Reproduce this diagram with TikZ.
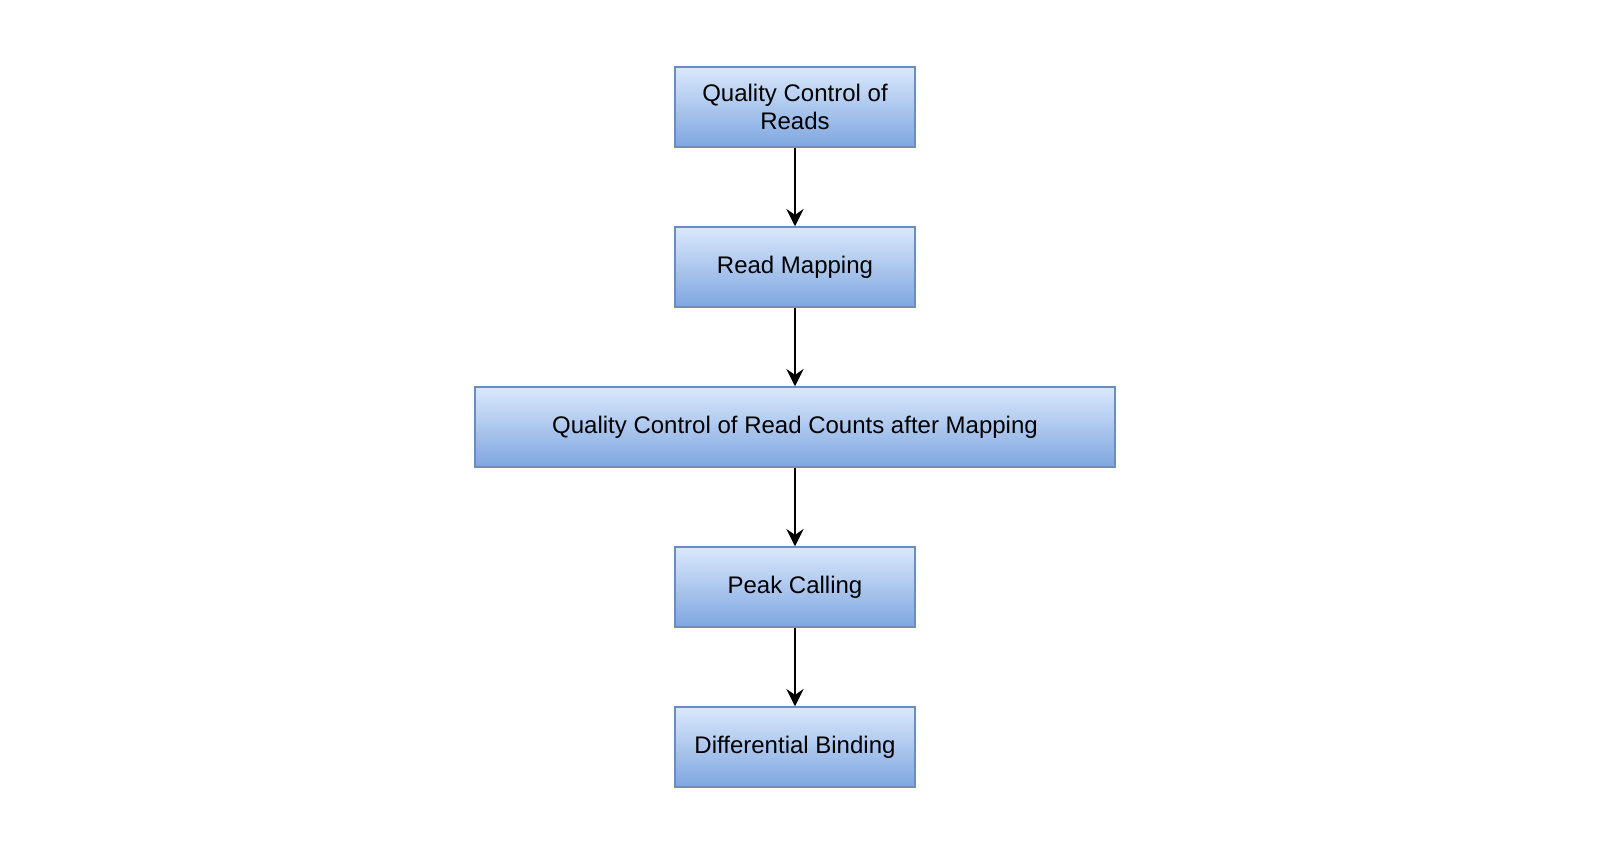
\documentclass[tikz,border=0pt]{standalone}
\usepackage{fontspec}
\setmainfont{Liberation Sans}
\usetikzlibrary{arrows.meta,positioning}
\definecolor{fillTop}{HTML}{DAE8FC}
\definecolor{fillBot}{HTML}{7EA6E0}
\definecolor{edgeBlue}{HTML}{6C8EBF}
\tikzset{
  stepbox/.style={draw=edgeBlue, line width=1.1pt, top color=fillTop, bottom color=fillBot,
    minimum width=180pt, minimum height=60pt, inner sep=0pt, align=center,
    font=\fontsize{18pt}{20.5pt}\selectfont, text=black},
  flow/.style={draw=black, line width=1.2pt, -{Stealth[length=13pt,width=13pt,inset=4.5pt]}}
}
\begin{document}
\begin{tikzpicture}[x=0.75pt,y=-0.75pt]
\useasboundingbox (0,0) rectangle (1622,848);
\node[stepbox] (qc) at (795,107) {Quality Control of\\Reads};
\node[stepbox] (rm) at (795,267) {Read Mapping};
\node[stepbox, minimum width=480pt] (qcm) at (795,427) {Quality Control of Read Counts after Mapping};
\node[stepbox] (pc) at (795,587) {Peak Calling};
\node[stepbox] (db) at (795,747) {Differential Binding};
\draw[flow] (qc) -- (rm);
\draw[flow] (rm) -- (qcm);
\draw[flow] (qcm) -- (pc);
\draw[flow] (pc) -- (db);
\end{tikzpicture}
\end{document}
